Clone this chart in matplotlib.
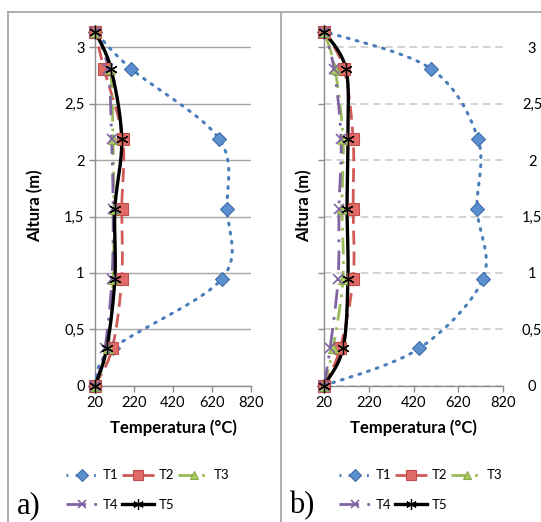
import numpy as np
import matplotlib
matplotlib.use("Agg")
import matplotlib.pyplot as plt
from matplotlib.lines import Line2D

plt.rcParams['font.family'] = ['Lato', 'DejaVu Sans']

# heights of the measuring points (m)
altura = [0, 0.33, 0.95, 1.57, 2.19, 2.81, 3.14]

# panel a) temperatures (°C)
t1_a = [20, 112, 672, 697, 656, 205, 20]
t2_a = [20, 108, 157, 157, 162, 66, 20]
t3_a = [20, 87, 113, 117, 112, 97, 20]
t4_a = [20, 71, 107, 113, 105, 87, 20]
t5_a = [20, 80, 122, 122, 157, 102, 20]

# panel b) temperatures (°C)
t1_b = [20, 445, 731, 704, 708, 498, 20]
t2_b = [20, 92, 150, 150, 150, 109, 20]
t3_b = [20, 60, 105, 100, 105, 69, 20]
t4_b = [20, 47, 83, 87, 96, 65, 20]
t5_b = [20, 105, 127, 123, 127, 118, 20]

series_names = ['T1', 'T2', 'T3', 'T4', 'T5']
xticks = [20, 220, 420, 620, 820]
yticks = [0, 0.5, 1, 1.5, 2, 2.5, 3]
ytick_labels = ['0', '0,5', '1', '1,5', '2', '2,5', '3']

styles = [
    dict(color='#4A7EBB', ls=(0, (0.6, 2.4)), dash_capstyle='round', marker='D', ms=7.5,
         mfc='#5B8FD0', mec='#3F6FA8', lw=2.2),
    dict(color='#D05A57', ls=(0, (5, 2.5)), marker='s', ms=8,
         mfc='#E06A66', mec='#C04F4C', lw=2.0),
    dict(color='#9BBB59', ls=(0, (6, 2.5, 1, 2.5)), marker='^', ms=7,
         mfc='#A9CC62', mec='#8AAA4A', lw=2.0),
    dict(color='#8064A2', ls=(0, (7, 3, 1, 3)), marker='x', ms=7, mew=1.2,
         mfc='#8064A2', mec='#8064A2', lw=2.0),
    dict(color='black', ls='-', marker=(6, 2, 0), ms=9, mew=0.9,
         mfc='black', mec='black', lw=2.4),
]


def smooth(xs, ys, sx, sy, n=25):
    """Excel-like smoothed line (bezier through the points, done in pixel space)"""
    P = np.column_stack([np.array(xs, float) * sx, np.array(ys, float) * sy])
    out = []
    t = np.linspace(0, 1, n)[:, None]
    for i in range(len(P) - 1):
        p0 = P[i - 1] if i > 0 else P[i]
        p1, p2 = P[i], P[i + 1]
        p3 = P[i + 2] if i + 2 < len(P) else P[i + 1]
        c1 = p1 + (p2 - p0) / 6
        c2 = p2 - (p3 - p1) / 6
        seg = (1 - t) ** 3 * p1 + 3 * (1 - t) ** 2 * t * c1 + 3 * (1 - t) * t ** 2 * c2 + t ** 3 * p2
        out.append(seg if i == 0 else seg[1:])
    pts = np.vstack(out)
    return pts[:, 0] / sx, pts[:, 1] / sy


W, H = 541, 522
fig = plt.figure(figsize=(W / 100, H / 100), dpi=100)

y0_px = 385.7
px_per_m = 112.8
ytop = 3.2
ax_a = fig.add_axes([95 / W, (H - y0_px) / H, 156 / W, ytop * px_per_m / H])
ax_b = fig.add_axes([324 / W, (H - y0_px) / H, 179 / W, ytop * px_per_m / H])


def draw_panel(ax, data, width_px, grid_ls):
    sx = width_px / 800.0
    sy = px_per_m
    for vals, st in zip(data, styles):
        xs, ys = smooth(vals, altura, sx, sy)
        ax.plot(xs, ys, color=st['color'], ls=st['ls'], lw=st['lw'],
                dash_capstyle=st.get('dash_capstyle', 'butt'), clip_on=False, zorder=3)
        ax.plot(vals, altura, ls='none', marker=st['marker'], ms=st['ms'],
                mfc=st['mfc'], mec=st['mec'], mew=st.get('mew', 0.8),
                clip_on=False, zorder=4)
    ax.set_xlim(20, 820)
    ax.set_ylim(0, ytop)
    ax.set_xticks(xticks)
    ax.set_yticks(yticks)
    ax.set_yticklabels(ytick_labels)
    for s in ['top', 'right']:
        ax.spines[s].set_visible(False)
    for s in ['left', 'bottom']:
        ax.spines[s].set_color('#8C8C8C')
        ax.spines[s].set_linewidth(1.0)
    ax.tick_params(colors='#8C8C8C', labelcolor='black', labelsize=10.5, length=4, width=1)
    ax.yaxis.grid(True, color='#A6A6A6' if grid_ls == '-' else '#C8C8C8',
                  ls=grid_ls, lw=1.0 if grid_ls == '-' else 1.1)
    ax.set_axisbelow(True)
    ax.set_xlabel('Temperatura (°C)', fontsize=12, fontweight='bold', labelpad=7)
    ax.set_ylabel('Altura (m)', fontsize=12, fontweight='bold')


draw_panel(ax_a, [t1_a, t2_a, t3_a, t4_a, t5_a], 156, '-')
draw_panel(ax_b, [t1_b, t2_b, t3_b, t4_b, t5_b], 179, (0, (5, 3)))

ax_a.yaxis.set_label_coords(-0.33, 0.5)
ax_b.tick_params(axis='y', left=True, right=False, labelleft=False, labelright=True)
for lab in ax_b.get_yticklabels():
    lab.set_horizontalalignment('center')
ax_b.tick_params(axis='y', pad=17)
ax_b.yaxis.set_label_coords(-0.065, 0.5)

# legends (order so rows read T1 T2 T3 / T4 T5)
handles = [Line2D([], [], color=st['color'], ls=st['ls'], lw=st['lw'], marker=st['marker'],
                  ms=st['ms'] * 0.85, mfc=st['mfc'], mec=st['mec'], mew=st.get('mew', 0.8))
           for st in styles]
order = [0, 3, 1, 4, 2]
for cx in [148, 421]:
    fig.legend([handles[i] for i in order], [series_names[i] for i in order],
               loc='center', bbox_to_anchor=(cx / W, (H - 490) / H), ncol=3,
               frameon=False, fontsize=9.5, handlelength=2.4, handletextpad=0.35,
               columnspacing=0.3, labelspacing=1.3)

fig.text(17 / W, (H - 506) / H, 'a)', family='Liberation Serif', fontsize=22, va='center')
fig.text(289 / W, (H - 506) / H, 'b)', family='Liberation Serif', fontsize=22, va='center')

# outer frame lines
frame_c = '#A8A8A8'
fig.add_artist(Line2D([8 / W, 1], [1 - 12 / H, 1 - 12 / H], color=frame_c, lw=1.3))
fig.add_artist(Line2D([8 / W, 8 / W], [0, 1 - 12 / H], color=frame_c, lw=1.3))
fig.add_artist(Line2D([281 / W, 281 / W], [0, 1 - 12 / H], color=frame_c, lw=1.3))

fig.savefig('out.png', dpi=100)
